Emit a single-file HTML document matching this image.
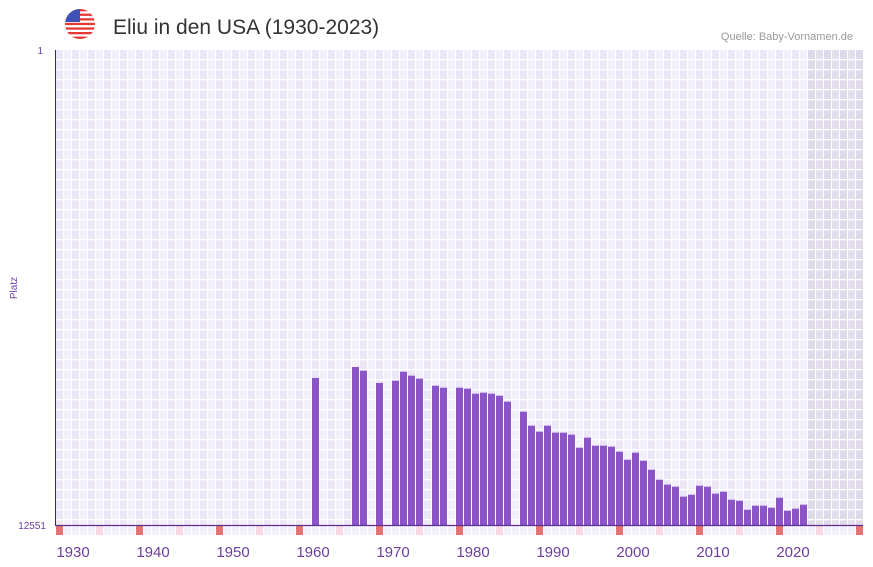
<!DOCTYPE html>
<html><head><meta charset="utf-8">
<style>
body{margin:0;background:#fff;font-family:"Liberation Sans",sans-serif;}
svg{display:block}
</style></head>
<body>
<svg id="chart" width="873" height="567">
  <defs><clipPath id="fc"><circle cx="80" cy="24" r="15"/></clipPath></defs>
  <g clip-path="url(#fc)">
    <rect x="65" y="9" width="30" height="30" fill="#fff"/>
    <rect x="65" y="9" width="30" height="2.3" fill="#e53935"/>
    <rect x="65" y="13.6" width="30" height="2.3" fill="#e53935"/>
    <rect x="65" y="18.2" width="30" height="2.3" fill="#e53935"/>
    <rect x="65" y="22.8" width="30" height="2.3" fill="#e53935"/>
    <rect x="65" y="27.4" width="30" height="2.3" fill="#e53935"/>
    <rect x="65" y="32" width="30" height="2.3" fill="#e53935"/>
    <rect x="65" y="36.6" width="30" height="2.4" fill="#e53935"/>
    <rect x="65" y="9" width="15" height="13" fill="#3f51b5"/>
  </g>
  <text x="113" y="34" font-size="21" fill="#333">Eliu in den USA (1930-2023)</text>
  <text x="853" y="40" font-size="11" fill="#999" text-anchor="end">Quelle: Baby-Vornamen.de</text>
  <g id="grid"></g>
  <g id="bars"></g>
  <g id="axes"></g>
  <text x="43" y="54" font-size="10" fill="#6b3fa0" text-anchor="end">1</text>
  <text x="46" y="529" font-size="10" fill="#6b3fa0" text-anchor="end">12551</text>
  <text x="0" y="0" font-size="10" fill="#6b3fa0" text-anchor="middle" transform="translate(17,288) rotate(-90)">Platz</text>
</svg>
<script>
const years = [];
for (let y = 1960; y <= 2021; y++) years.push(y);
const ranks = [8666,null,null,null,null,8376,8473,null,8798,null,
8737,8500,8605,8684,null,8870,8923,null,8923,8949,
9081,9054,9081,9134,9292,null,9556,9926,10085,9926,
10111,10111,10164,10508,10243,10455,10455,10481,10613,10825,
10640,10851,11089,11353,11485,11538,11802,11750,11512,11538,
11723,11670,11881,11908,12146,12040,12040,12093,11829,12172,
12119,12014];
const xTicks = [1930,1940,1950,1960,1970,1980,1990,2000,2010,2020];
const yMin = 1, yMax = 12551;

const NS = "http://www.w3.org/2000/svg";
const X0 = 56, SLOT = 8, Y0 = 50, Y1 = 525;
function xScale(yr){ return X0 + (yr - 1928) * SLOT; }
function yScale(r){ return Y0 + (r - yMin) / (yMax - yMin) * (Y1 - Y0); }
function mk(tag, attrs, parent){ const e = document.createElementNS(NS, tag); for (const k in attrs) e.setAttribute(k, attrs[k]); parent.appendChild(e); return e; }

const grid = document.getElementById('grid');
mk('rect', {x:55, y:50, width:808, height:475, fill:'#fff'}, grid);
for (let yr = 1928; yr <= 2028; yr++) {
  const x = xScale(yr);
  const future = yr >= 2022;
  const c = future ? (yr % 2 ? '#e3dfec' : '#dedaea') : (yr % 2 ? '#f3f0fb' : '#ece7f7');
  mk('rect', {x:x, y:50, width:7, height:475, fill:c}, grid);
  let mc = '#f3f0fb';
  if ((yr - 1928) % 10 === 0) mc = '#e57373';
  else if ((yr - 1933) % 10 === 0) mc = '#f8d9e1';
  mk('rect', {x:x, y:525, width:7, height:10, fill:mc}, grid);
}
for (let y = 59; y < 525; y += 10) mk('rect', {x:55, y:y, width:808, height:1.3, fill:'#fff'}, grid);

const bars = document.getElementById('bars');
years.forEach((yr, i) => {
  const r = ranks[i];
  if (r === null) return;
  const top = yScale(r);
  const b = mk('rect', {x:xScale(yr), y:top, width:7, height:Y1 - top, fill:'#8b55c8'}, bars);
  
  
});

const axes = document.getElementById('axes');
mk('line', {x1:55.5, y1:50, x2:55.5, y2:525, stroke:'#3a2a55', 'stroke-width':1}, axes);
mk('line', {x1:55, y1:525.5, x2:863, y2:525.5, stroke:'#5b2d8e', 'stroke-width':1.2}, axes);
xTicks.forEach(t => {
  const tx = mk('text', {x:xScale(t) + 1, y:557, 'font-size':15, fill:'#6b3fa0', 'text-anchor':'middle'}, axes);
  tx.textContent = t;
  
  
});
</script>
</body></html>
